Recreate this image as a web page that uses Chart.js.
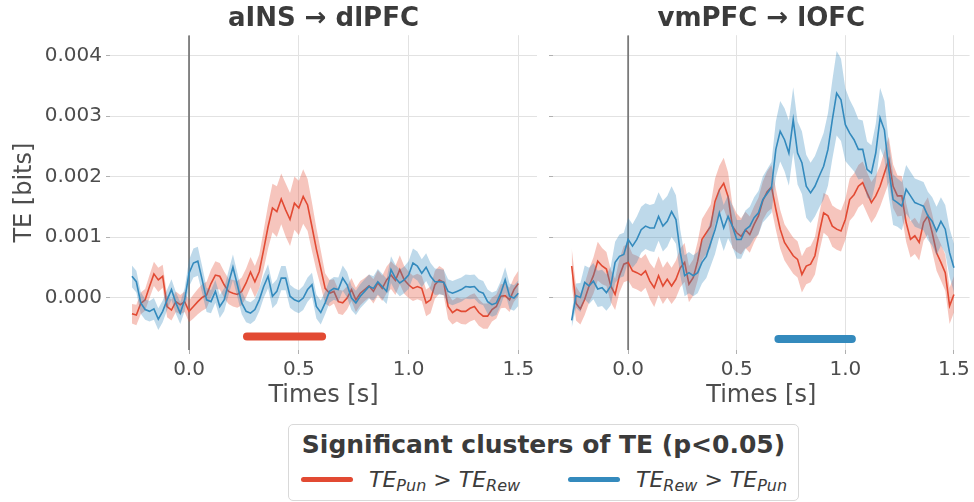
<!DOCTYPE html>
<html>
<head>
<meta charset="utf-8">
<script src="https://cdn.jsdelivr.net/npm/chart.js@4.4.1/dist/chart.umd.min.js"></script>
<style>
  body { margin: 0; background: #fff; font-family: "DejaVu Sans", sans-serif; }
  #wrap { position: relative; width: 974px; height: 502px; overflow: hidden; }
  canvas { position: absolute; top: 0; }
  #legend { position: absolute; left: 288px; top: 424px; width: 509px; height: 75px;
            border: 1px solid #d9d9d9; border-radius: 5px; background: #fff; color: #3b3b3b; }
  #legend .ttl { position: absolute; left: 0; right: 0; top: 5px; text-align: center;
                 font-weight: bold; font-size: 25px; line-height: 30px; }
  #legend .sw { position: absolute; top: 52px; width: 52px; height: 5px; border-radius: 3px; }
  #legend .lbl { position: absolute; top: 40px; font-size: 22px; font-style: italic; line-height: 30px; white-space: nowrap; }
  #legend sub { font-size: 16px; vertical-align: -4px; line-height: 0; }
</style>
</head>
<body>
<div id="wrap">
  <canvas id="left" width="540" height="420" style="left:0"></canvas>
  <canvas id="right" width="434" height="420" style="left:540px"></canvas>
  <div id="legend">
    <div class="ttl">Significant clusters of TE (p&lt;0.05)</div>
    <div class="sw" style="left:12px;background:#E24A33"></div>
    <div class="lbl" style="left:80px">TE<sub>Pun</sub> &gt; TE<sub>Rew</sub></div>
    <div class="sw" style="left:279px;background:#348ABD"></div>
    <div class="lbl" style="left:347px">TE<sub>Rew</sub> &gt; TE<sub>Pun</sub></div>
  </div>
</div>
<script>
// time axis [s]
const times = [
  -0.26,-0.24,-0.22,-0.20,-0.18,-0.16,-0.14,-0.12,-0.10,-0.08,
  -0.06,-0.04,-0.02,0.00,0.02,0.04,0.06,0.08,0.10,0.12,
  0.14,0.16,0.18,0.20,0.22,0.24,0.26,0.28,0.30,0.32,
  0.34,0.36,0.38,0.40,0.42,0.44,0.46,0.48,0.50,0.52,
  0.54,0.56,0.58,0.60,0.62,0.64,0.66,0.68,0.70,0.72,
  0.74,0.76,0.78,0.80,0.82,0.84,0.86,0.88,0.90,0.92,
  0.94,0.96,0.98,1.00,1.02,1.04,1.06,1.08,1.10,1.12,
  1.14,1.16,1.18,1.20,1.22,1.24,1.26,1.28,1.30,1.32,
  1.34,1.36,1.38,1.40,1.42,1.44,1.46,1.48,1.50
];

// all TE values below in 1e-3 bits
// aINS -> dlPFC
const insPunMean = [
  -0.27,-0.29,-0.10,-0.04,0.18,0.39,0.29,0.35,-0.15,-0.21,
  -0.07,-0.12,-0.07,-0.23,-0.15,-0.07,0.00,0.04,0.23,0.37,
  0.35,0.21,0.10,0.07,0.05,0.10,0.24,0.42,0.26,0.43,
  0.79,1.17,1.48,1.42,1.63,1.45,1.29,1.56,1.48,1.67,
  1.53,1.17,0.80,0.48,0.15,0.07,0.10,-0.07,-0.09,-0.01,
  0.13,-0.04,0.07,0.13,0.19,0.10,0.24,0.15,0.29,0.37,
  0.28,0.46,0.29,0.21,0.15,0.18,0.15,-0.09,-0.04,0.21,
  0.29,0.25,-0.15,-0.25,-0.20,-0.23,-0.23,-0.18,-0.15,-0.25,
  -0.31,-0.31,-0.20,-0.15,0.02,0.03,-0.04,0.13,0.23
];
const insPunSem = [
  0.16,0.17,0.18,0.18,0.19,0.20,0.20,0.19,0.18,0.17,
  0.17,0.16,0.17,0.18,0.20,0.21,0.22,0.22,0.23,0.23,
  0.22,0.22,0.21,0.22,0.22,0.23,0.24,0.25,0.26,0.28,
  0.32,0.36,0.40,0.42,0.42,0.44,0.44,0.44,0.45,0.45,
  0.43,0.40,0.35,0.30,0.25,0.22,0.20,0.20,0.20,0.19,
  0.19,0.20,0.20,0.19,0.19,0.20,0.21,0.21,0.22,0.23,
  0.24,0.24,0.23,0.22,0.21,0.21,0.21,0.22,0.22,0.23,
  0.23,0.22,0.21,0.20,0.20,0.21,0.22,0.22,0.22,0.22,
  0.21,0.21,0.20,0.20,0.20,0.20,0.20,0.20,0.21
];
const insRewMean = [
  0.35,0.26,-0.09,-0.20,-0.23,-0.19,-0.36,-0.23,-0.04,0.13,
  -0.09,-0.26,-0.04,0.40,0.57,0.60,0.29,-0.04,-0.07,0.10,
  -0.15,-0.04,0.24,0.50,0.21,-0.09,-0.23,-0.26,-0.20,-0.04,
  0.18,0.35,0.02,0.10,0.32,0.32,0.02,-0.04,-0.07,-0.01,
  0.13,0.21,-0.15,-0.25,-0.09,0.10,0.15,0.13,0.32,0.21,
  -0.01,-0.09,0.02,0.10,0.18,0.15,0.26,0.18,0.10,0.46,
  0.32,0.24,0.29,0.37,0.57,0.52,0.40,0.50,0.35,0.26,
  0.26,0.25,0.10,0.07,0.10,0.13,0.18,0.17,0.18,0.10,
  0.07,-0.07,-0.12,-0.09,0.07,0.29,0.02,-0.01,0.07
];
const insRewSem = [
  0.18,0.18,0.18,0.17,0.17,0.18,0.18,0.18,0.17,0.17,
  0.18,0.18,0.19,0.22,0.24,0.24,0.22,0.20,0.19,0.19,
  0.19,0.19,0.20,0.21,0.20,0.19,0.18,0.18,0.18,0.19,
  0.19,0.20,0.20,0.20,0.20,0.20,0.19,0.19,0.19,0.20,
  0.20,0.20,0.20,0.20,0.19,0.19,0.19,0.20,0.21,0.21,
  0.20,0.20,0.20,0.20,0.20,0.20,0.21,0.21,0.21,0.22,
  0.22,0.22,0.22,0.23,0.24,0.24,0.23,0.23,0.22,0.22,
  0.21,0.21,0.20,0.20,0.20,0.20,0.20,0.20,0.20,0.20,
  0.20,0.20,0.20,0.20,0.20,0.21,0.21,0.21,0.21
];

// vmPFC -> lOFC
const vmPunMean = [
  0.52,-0.10,-0.19,-0.03,0.19,0.36,0.60,0.52,0.47,0.19,
  0.05,0.36,0.55,0.58,0.44,0.41,0.37,0.44,0.27,0.16,
  0.36,0.19,0.30,0.19,0.30,0.49,0.58,0.22,0.33,0.60,
  0.96,1.07,1.18,1.59,1.78,1.89,1.67,1.18,1.07,1.01,
  1.12,1.04,1.21,1.35,1.60,1.75,1.83,1.46,1.13,0.91,
  0.80,0.69,0.63,0.38,0.52,0.55,0.69,1.07,1.40,1.35,
  1.18,1.13,1.10,1.29,1.62,1.70,1.84,1.90,1.73,1.57,
  1.68,1.84,2.06,2.28,1.84,1.68,1.68,1.24,0.96,1.02,
  0.91,1.24,1.35,1.07,0.74,0.58,0.41,-0.14,0.05
];
const vmPunSem = [
  0.30,0.28,0.26,0.26,0.28,0.30,0.32,0.30,0.28,0.27,
  0.26,0.28,0.30,0.30,0.28,0.28,0.28,0.28,0.30,0.32,
  0.32,0.30,0.30,0.30,0.31,0.32,0.32,0.30,0.30,0.32,
  0.34,0.35,0.36,0.38,0.40,0.42,0.40,0.36,0.32,0.30,
  0.30,0.30,0.30,0.30,0.32,0.34,0.36,0.34,0.32,0.30,
  0.30,0.30,0.30,0.30,0.30,0.30,0.31,0.32,0.33,0.34,
  0.34,0.34,0.34,0.34,0.35,0.35,0.35,0.35,0.34,0.34,
  0.34,0.34,0.36,0.38,0.36,0.34,0.33,0.32,0.30,0.30,
  0.30,0.30,0.31,0.31,0.30,0.30,0.30,0.30,0.30
];
const vmRewMean = [
  -0.38,0.03,0.00,0.25,0.19,0.27,0.14,0.16,0.08,0.19,
  0.58,0.68,0.71,0.96,0.85,0.96,1.12,1.18,1.15,1.15,
  1.34,1.18,1.26,1.42,1.29,0.74,0.36,0.41,0.36,0.41,
  0.58,0.68,0.90,1.12,1.40,1.15,1.34,1.18,0.96,0.96,
  1.12,1.18,1.32,1.40,1.62,1.72,1.82,2.45,2.75,2.61,
  2.39,2.94,2.39,2.23,1.84,1.73,1.84,2.01,2.17,2.45,
  2.94,3.38,3.27,2.86,2.72,2.61,2.45,2.45,2.12,2.06,
  2.39,2.97,2.77,2.12,1.62,1.57,1.51,1.79,1.68,1.57,
  1.54,1.51,1.35,1.26,1.10,1.26,1.13,0.74,0.49
];
const vmRewSem = [
  0.12,0.20,0.24,0.28,0.30,0.30,0.30,0.30,0.30,0.32,
  0.34,0.36,0.36,0.36,0.36,0.38,0.38,0.38,0.38,0.40,
  0.40,0.42,0.42,0.42,0.40,0.38,0.34,0.34,0.34,0.34,
  0.35,0.36,0.38,0.40,0.40,0.38,0.36,0.34,0.32,0.32,
  0.32,0.32,0.34,0.36,0.38,0.40,0.42,0.46,0.50,0.52,
  0.54,0.54,0.52,0.52,0.52,0.50,0.50,0.52,0.55,0.60,
  0.65,0.70,0.68,0.60,0.55,0.52,0.50,0.48,0.46,0.46,
  0.48,0.50,0.48,0.45,0.42,0.40,0.40,0.40,0.40,0.40,
  0.40,0.40,0.40,0.40,0.40,0.40,0.40,0.40,0.40
];

// significant clusters: [start, end] in s, drawn at level (1e-3 bits)
const insCluster = [0.264, 0.606];
const insClusterLevel = -0.645;
const vmCluster = [0.692, 1.030];
const vmClusterLevel = -0.69;

const yTicks = [0, 0.001, 0.002, 0.003, 0.004];
const xTicks = [0, 0.5, 1.0, 1.5];

const RED = '#E24A33', BLUE = '#348ABD';
const RED_BAND = 'rgba(226,74,51,0.32)', BLUE_BAND = 'rgba(52,138,189,0.32)';
const YMIN = -0.00087, YMAX = 0.00434;

Chart.defaults.font.family = '"DejaVu Sans", sans-serif';
Chart.defaults.color = '#4d4d4d';

function pts(mean, sem, sign) {
  return times.map((t, i) => ({ x: t, y: (mean[i] + sign * sem[i]) * 1e-3 }));
}

function datasets(punMean, punSem, rewMean, rewSem, cluster, level, clusterColor) {
  const base = { pointRadius: 0, tension: 0 };
  return [
    { ...base, data: [{x: 0, y: YMIN}, {x: 0, y: YMAX}], borderColor: '#7a7a7a', borderWidth: 1.8, order: 10 },
    { ...base, data: pts(punMean, punSem, 1), borderWidth: 0, borderColor: 'transparent', backgroundColor: RED_BAND, fill: '+1', order: 9 },
    { ...base, data: pts(punMean, punSem, -1), borderWidth: 0, borderColor: 'transparent', fill: false, order: 8 },
    { ...base, data: pts(punMean, punSem, 0), borderColor: RED, borderWidth: 1.6, fill: false, order: 7 },
    { ...base, data: pts(rewMean, rewSem, 1), borderWidth: 0, borderColor: 'transparent', backgroundColor: BLUE_BAND, fill: '+1', order: 6 },
    { ...base, data: pts(rewMean, rewSem, -1), borderWidth: 0, borderColor: 'transparent', fill: false, order: 5 },
    { ...base, data: pts(rewMean, rewSem, 0), borderColor: BLUE, borderWidth: 1.6, fill: false, order: 4 },
    { ...base, data: [{x: cluster[0], y: level * 1e-3}, {x: cluster[1], y: level * 1e-3}],
      borderColor: clusterColor, borderWidth: 8, borderCapStyle: 'round', fill: false, order: 1 }
  ];
}

function makeChart(id, title, sets, xmin, xmax, showY, yWidth, padRight) {
  new Chart(document.getElementById(id), {
    type: 'line',
    data: { datasets: sets },
    options: {
      responsive: false,
      animation: false,
      layout: { padding: { left: 0, right: padRight, top: 0, bottom: 0 } },
      plugins: {
        legend: { display: false },
        tooltip: { enabled: false },
        title: {
          display: true, text: title, fullSize: false, color: '#3b3b3b',
          font: { size: 26, weight: 'bold' }, padding: { top: 4, bottom: 0 }
        }
      },
      scales: {
        x: {
          type: 'linear', min: xmin, max: xmax,
          afterBuildTicks: s => { s.ticks = xTicks.map(v => ({ value: v })); },
          ticks: { font: { size: 20 }, padding: 4, maxRotation: 0, callback: v => v.toFixed(1) },
          grid: { color: '#e2e2e2', tickColor: '#b0b0b0', tickLength: 4 },
          border: { display: false },
          title: { display: true, text: 'Times [s]', font: { size: 24 }, padding: { top: 0, bottom: 10 } },
          afterFit: s => { s.height = 70; }
        },
        y: {
          min: YMIN, max: YMAX,
          afterBuildTicks: s => { s.ticks = yTicks.map(v => ({ value: v })); },
          ticks: { font: { size: 20 }, padding: 4, color: showY ? '#4d4d4d' : 'rgba(0,0,0,0)',
                   callback: v => v.toFixed(3) },
          grid: { color: '#e2e2e2', tickColor: '#b0b0b0', tickLength: 4 },
          border: { display: false },
          title: { display: showY, text: 'TE [bits]', font: { size: 24 }, padding: { top: 10 } },
          afterFit: s => { s.width = yWidth; }
        }
      }
    }
  });
}

makeChart('left', 'aINS \u2192 dlPFC',
  datasets(insPunMean, insPunSem, insRewMean, insRewSem, insCluster, insClusterLevel, RED),
  -0.36, 1.585, true, 110, 3);
makeChart('right', 'vmPFC \u2192 lOFC',
  datasets(vmPunMean, vmPunSem, vmRewMean, vmRewSem, vmCluster, vmClusterLevel, BLUE),
  -0.346, 1.572, false, 13, 0);
</script>
</body>
</html>
